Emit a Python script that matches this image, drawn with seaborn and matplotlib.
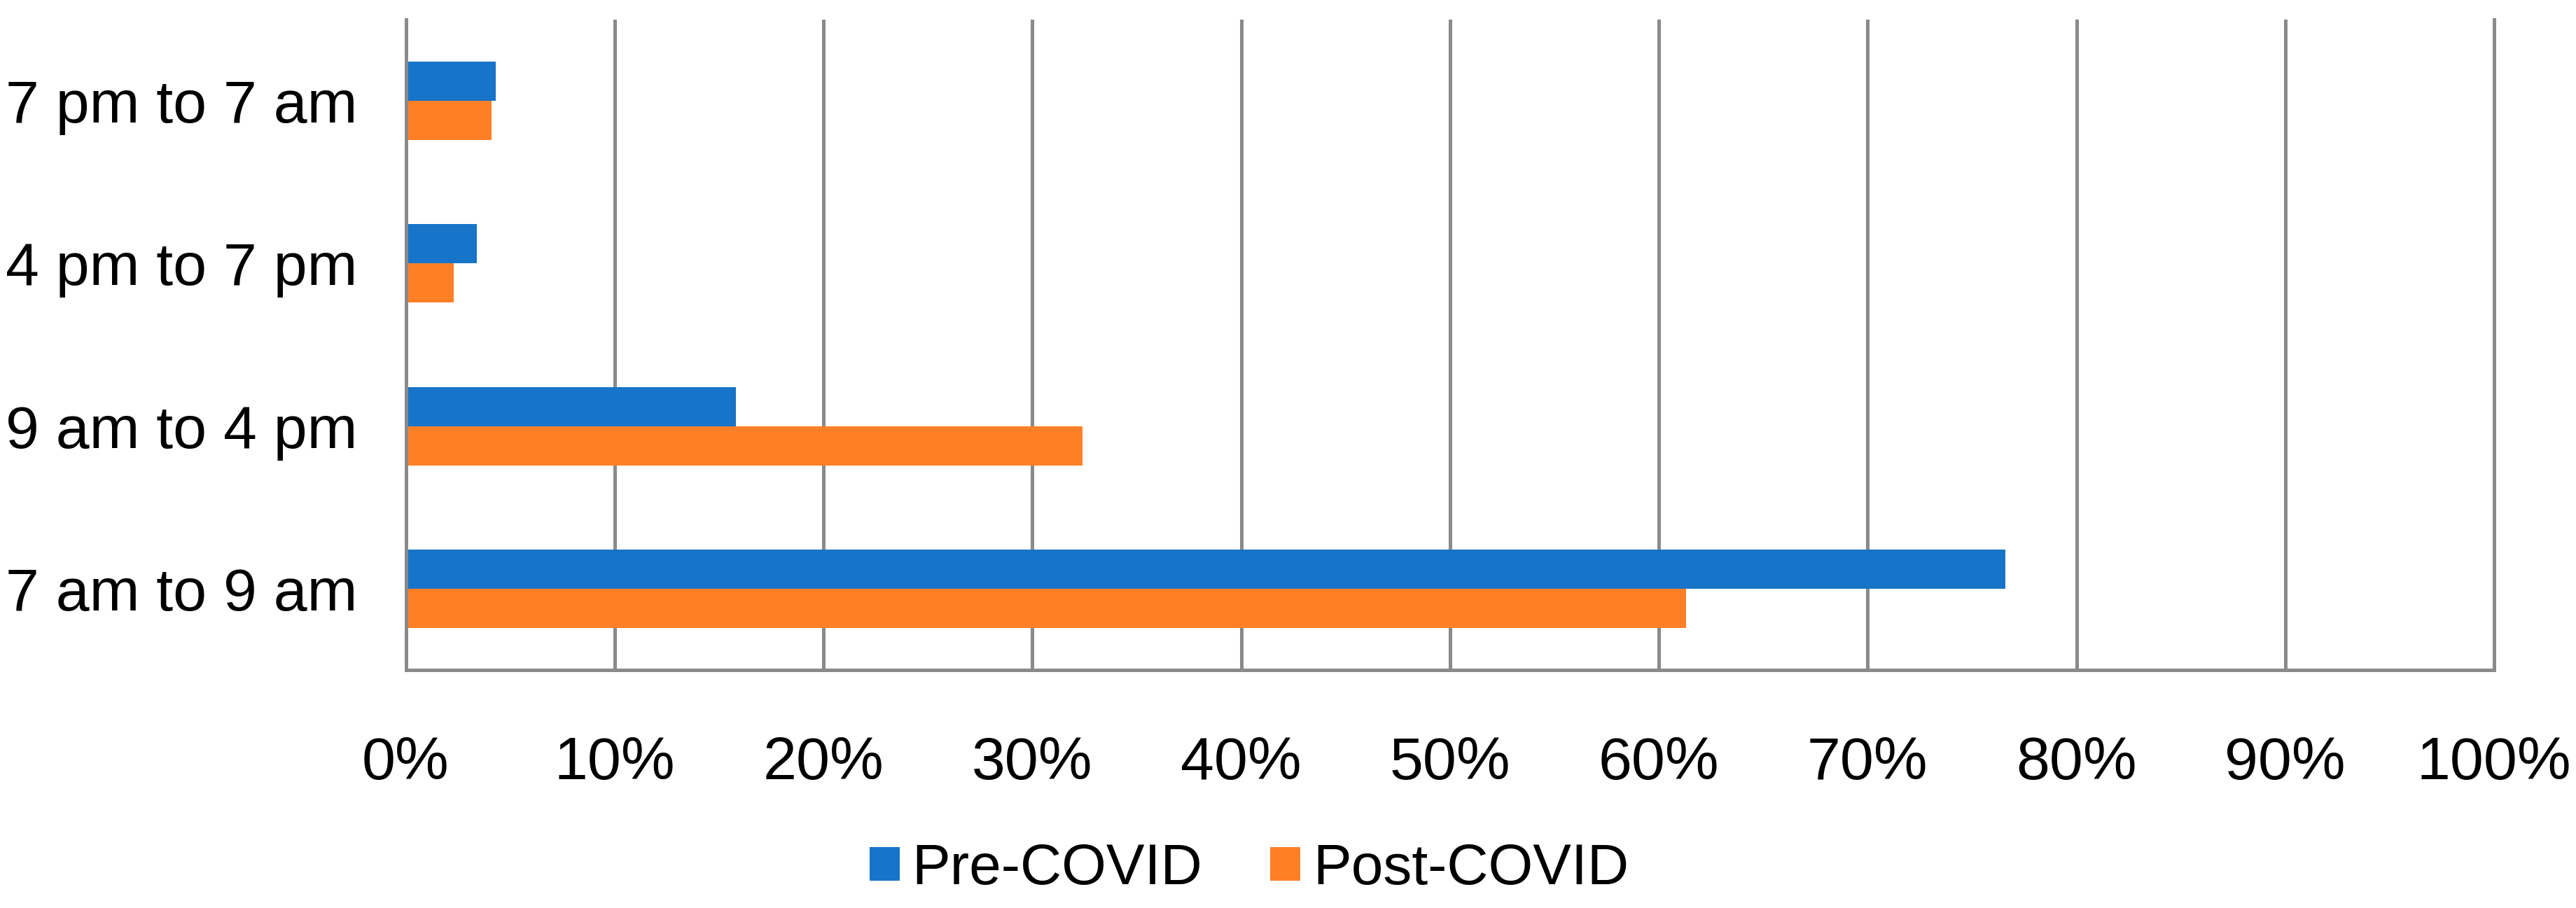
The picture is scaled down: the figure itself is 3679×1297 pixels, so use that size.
import matplotlib
matplotlib.use("Agg")
import matplotlib.pyplot as plt
import seaborn as sns
import pandas as pd
from matplotlib.ticker import FuncFormatter, MultipleLocator

categories = ["7 pm to 7 am", "4 pm to 7 pm", "9 am to 4 pm", "7 am to 9 am"]
pre_covid = [4.3, 3.4, 15.8, 76.6]
post_covid = [4.1, 2.3, 32.4, 61.3]
series_names = ["Pre-COVID", "Post-COVID"]
colors = {"Pre-COVID": "#1774C8", "Post-COVID": "#FF7F27"}

df = pd.DataFrame({
    "category": categories * 2,
    "period": [series_names[0]] * len(categories) + [series_names[1]] * len(categories),
    "value": pre_covid + post_covid,
})

sns.set_theme(style="white")
plt.rcParams["font.family"] = ["Liberation Sans", "DejaVu Sans"]
plt.rcParams["text.color"] = "black"

W, H = 3679, 1297
fig = plt.figure(figsize=(W / 100, H / 100), dpi=100)
ax = fig.add_axes([579.5 / W, 1 - 957 / H, (3562 - 579.5) / W, (957 - 28) / H])

sns.barplot(data=df, y="category", x="value", hue="period", order=categories,
            hue_order=series_names, palette=colors, orient="h", width=0.482,
            gap=0, saturation=1, linewidth=0, ax=ax, legend=True)

grid_color = "#8A8A8A"
lw = 3.6
fs = 62
ax.set_xlim(0, 100)
ax.set_ylim(3.5, -0.5)
ax.xaxis.set_major_locator(MultipleLocator(10))
ax.xaxis.set_major_formatter(FuncFormatter(lambda v, p: f"{v:.0f}%"))
ax.grid(axis="x", color=grid_color, linewidth=lw)
ax.grid(axis="y", visible=False)
ax.set_axisbelow(True)
for s in ["left", "bottom", "right"]:
    ax.spines[s].set_visible(True)
    ax.spines[s].set_color(grid_color)
    ax.spines[s].set_linewidth(lw)
ax.spines["top"].set_visible(False)
ax.set_xlabel("")
ax.set_ylabel("")
ax.tick_params(axis="x", length=0, pad=68, labelsize=fs, labelcolor="black")
ax.tick_params(axis="y", length=0, pad=50, labelsize=fs, labelcolor="black")

handles, labels = ax.get_legend_handles_labels()
ax.get_legend().remove()
leg = fig.legend(handles, labels, loc="center", bbox_to_anchor=(1784 / W, 1 - 1242 / H),
                 ncol=2, frameon=False, fontsize=59, handlelength=0.525, handleheight=0.525,
                 handletextpad=0.22, columnspacing=1.18, borderpad=0)
for t in leg.get_texts():
    t.set_color("black")

fig.savefig("out.png", dpi=100, facecolor="white")
